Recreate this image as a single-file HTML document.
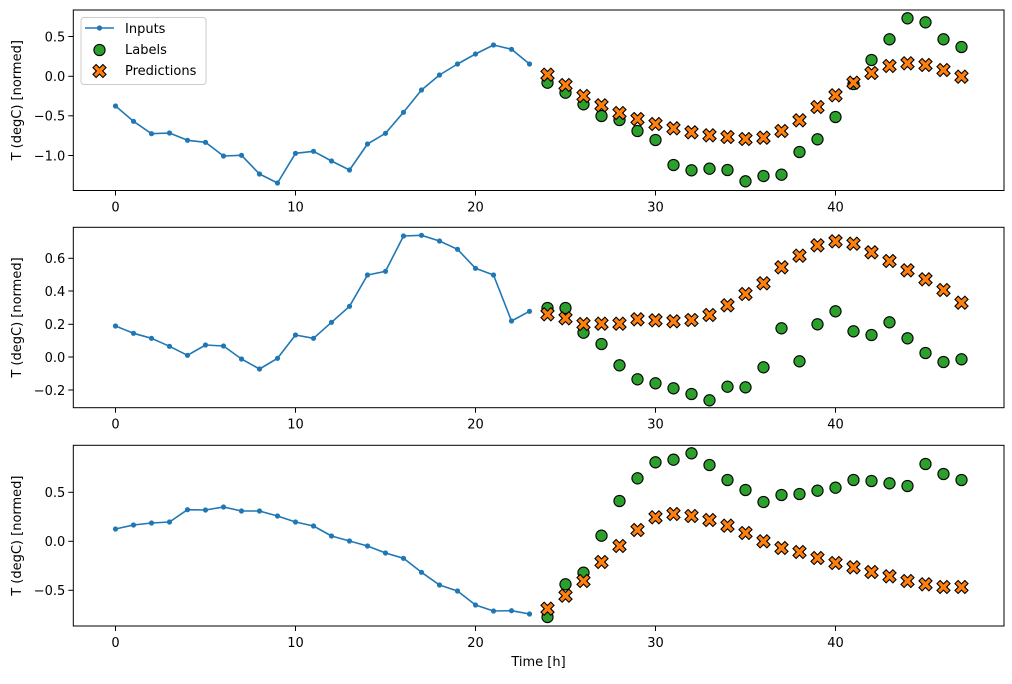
<!DOCTYPE html>
<html><head><meta charset="utf-8"><style>
html,body{margin:0;padding:0;background:#fff;}
svg text{font-family:"DejaVu Sans","Liberation Sans",sans-serif;font-size:13px;fill:#000;}
</style></head><body>
<svg id="s" width="1012" height="679" xmlns="http://www.w3.org/2000/svg"></svg>
<script>
const X=t=>115.5+18*t;
const L=73.3,R=1004;
const P=[
 {top:10,bot:190.5,ticks:[[36.5,"0.5"],[76.3,"0.0"],[115.8,"−0.5"],[155.5,"−1.0"]],
  inp:[106,121.3,133.7,133,140.3,142.3,156,155.3,174,183,153.3,151.3,161,170,144,133.3,112.3,90,75,64,54,45,49.3,64],
  lab:[82.7,92.7,104.3,116,120,131,140,165,170.3,168.7,170,181.3,176,174.7,152,139.3,117,84,60,39.3,18.3,22.3,39.3,47],
  pre:[74.7,85,96,105.3,113,119,124,128.3,132.3,135.3,137,139,137.7,131,120.3,107,95.3,82.7,73,66,63.3,65,70,76.7]},
 {top:227.3,bot:407.7,ticks:[[258.3,"0.6"],[291,"0.4"],[324.3,"0.2"],[357,"0.0"],[390,"−0.2"]],
  inp:[326,333.3,338.3,346.3,355.3,345,346,359,369,358.3,335,338.3,322.3,306.3,275,271.3,236,235.3,241,249.3,268.3,275,321,311.3],
  lab:[308,308,332.7,344,365.3,379.3,383.3,388.3,394,400.3,386.7,387.3,367.3,328.3,361.3,324.3,311.3,331.3,335,322.3,338.3,353,362,359.3],
  pre:[314.3,318.3,324,323.7,323.7,319.3,320.3,321.3,320,315,305.3,294,283.3,267.3,255.7,245.3,241.3,243.7,252.3,261,270.3,279.3,290,302.7]},
 {top:445.3,bot:626,ticks:[[492.3,"0.5"],[541.3,"0.0"],[590.3,"−0.5"]],
  inp:[529,525,523,522,509.7,510,507,511,511,516,522,526,536,541,546,553,558.3,572.3,585,591,605,611,610.7,614],
  lab:[617,584.3,572.7,535.7,501,478.3,462.3,459.7,453.3,465,480,490,502,495,494,490.7,487.7,480,481,483.3,486,464,474,480],
  pre:[608.7,595.7,581,562,546,530,517.3,514,516,520,525.7,533,541.3,548,552,558,563,567.3,572,576.3,581,584.3,587,587]}
];
function xm(cx,cy,s){const w=0.32;const pts=[[w,w],[w,1],[-w,1],[-w,w],[-1,w],[-1,-w],[-w,-w],[-w,-1],[w,-1],[w,-w],[1,-w],[1,w]];
 const c=Math.SQRT1_2;return pts.map(([a,b])=>[(cx+s*(a*c-b*c)).toFixed(2),(cy+s*(a*c+b*c)).toFixed(2)].join(",")).join(" ");}
let h="";
P.forEach((p,i)=>{
 // series
 h+=`<polyline fill="none" stroke="#1f77b4" stroke-width="1.6" stroke-linejoin="round" points="${p.inp.map((y,t)=>X(t)+","+y).join(" ")}"/>`;
 p.inp.forEach((y,t)=>h+=`<circle cx="${X(t)}" cy="${y}" r="2.6" fill="#1f77b4"/>`);
 p.lab.forEach((y,k)=>h+=`<circle cx="${X(24+k)}" cy="${y}" r="5.6" fill="#2ca02c" stroke="#000" stroke-width="1.1"/>`);
 p.pre.forEach((y,k)=>h+=`<polygon points="${xm(X(24+k),y,7)}" fill="#ff7f0e" stroke="#000" stroke-width="1.1" stroke-linejoin="miter"/>`);
 // frame
 h+=`<rect x="${L}" y="${p.top}" width="${R-L}" height="${p.bot-p.top}" fill="none" stroke="#000" stroke-width="1"/>`;
 p.ticks.forEach(([y,s])=>{h+=`<line x1="${L-5}" x2="${L}" y1="${y}" y2="${y}" stroke="#000"/><text x="${L-8}" y="${y+4.8}" text-anchor="end">${s}</text>`;});
 [0,10,20,30,40].forEach(v=>{h+=`<line x1="${X(v)}" x2="${X(v)}" y1="${p.bot}" y2="${p.bot+5}" stroke="#000"/><text x="${X(v)}" y="${p.bot+21}" text-anchor="middle">${v}</text>`;});
 const cy=(p.top+p.bot)/2;
 h+=`<text transform="translate(21,${cy}) rotate(-90)" text-anchor="middle">T (degC) [normed]</text>`;
});
h+=`<text x="538.5" y="666" text-anchor="middle">Time [h]</text>`;
// legend
h+=`<rect x="81" y="17.5" width="125" height="67" rx="3" fill="#fff" fill-opacity="0.8" stroke="#ccc"/>`;
h+=`<line x1="85" x2="114" y1="28" y2="28" stroke="#1f77b4" stroke-width="1.6"/><circle cx="99.5" cy="28" r="2.6" fill="#1f77b4"/><text x="125" y="33">Inputs</text>`;
h+=`<circle cx="99.5" cy="50" r="5.6" fill="#2ca02c" stroke="#000" stroke-width="1.1"/><text x="125" y="54">Labels</text>`;
h+=`<polygon points="${xm(99.5,71,7)}" fill="#ff7f0e" stroke="#000" stroke-width="1.1"/><text x="125" y="75">Predictions</text>`;
document.getElementById("s").innerHTML=h;
</script>
</body></html>
